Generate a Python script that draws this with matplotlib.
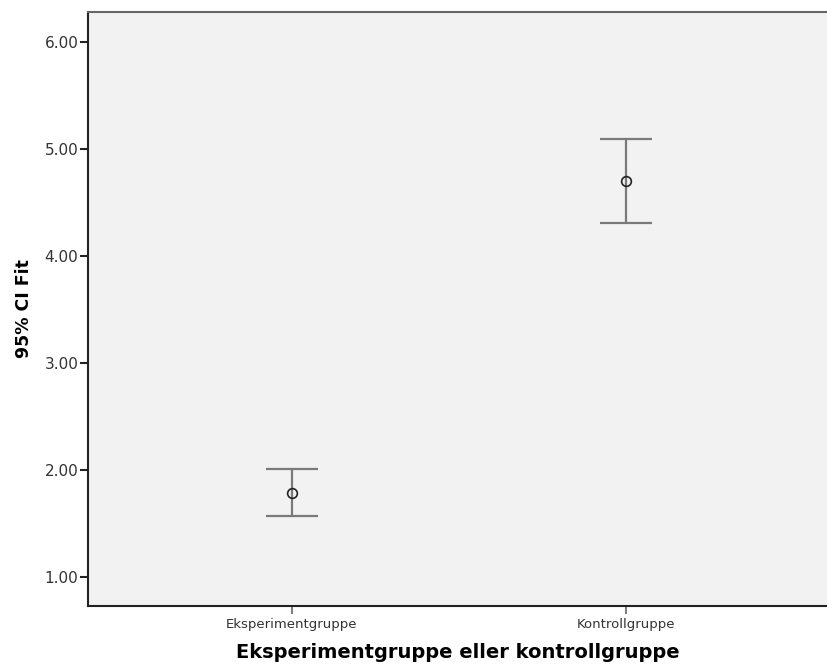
import matplotlib
matplotlib.use("Agg")
import matplotlib.pyplot as plt
import numpy as np

groups = ["Eksperimentgruppe", "Kontrollgruppe"]
means = [1.79, 4.70]
lower = [1.57, 4.31]
upper = [2.01, 5.09]
yticks = [1.0, 2.0, 3.0, 4.0, 5.0, 6.0]

plt.rcParams["font.family"] = ["DejaVu Sans"]

fig = plt.figure(figsize=(8.27, 6.66), dpi=100)
ax = fig.add_axes([0.1064, 0.0901, 0.8936, 0.8919])
ax.set_facecolor("#f2f2f2")

x = np.arange(len(groups))
m = np.array(means)
err = np.array([m - np.array(lower), np.array(upper) - m])
ax.errorbar(x, m, yerr=err, fmt="none", ecolor="#7a7a7a", elinewidth=1.6,
            capsize=18.5, capthick=1.6)
ax.plot(x, m, "o", mfc="none", mec="#222222", ms=7, mew=1.2)

ax.set_xlim(-0.61, 1.6)
ax.set_ylim(0.73, 6.28)
ax.set_xticks(x)
ax.set_xticklabels(groups, fontsize=9.5, color="#333333")
ax.set_yticks(yticks)
ax.set_yticklabels([f"{v:.2f}" for v in yticks], fontsize=11, color="#333333")
ax.tick_params(axis="y", length=6, width=1.5, color="#222222", pad=1)
ax.tick_params(axis="x", length=6, width=1.2, color="#666666", pad=3)

for s in ["left", "bottom"]:
    ax.spines[s].set_color("#222222")
    ax.spines[s].set_linewidth(1.5)
ax.spines["top"].set_color("#666666")
ax.spines["top"].set_linewidth(1.5)
ax.spines["right"].set_visible(False)

ax.set_xlabel("Eksperimentgruppe eller kontrollgruppe", fontsize=14,
              fontweight="bold", labelpad=8)
ax.set_ylabel("95% CI Fit", fontsize=12.5, fontweight="bold", labelpad=8)

fig.savefig("out.png", dpi=100)
